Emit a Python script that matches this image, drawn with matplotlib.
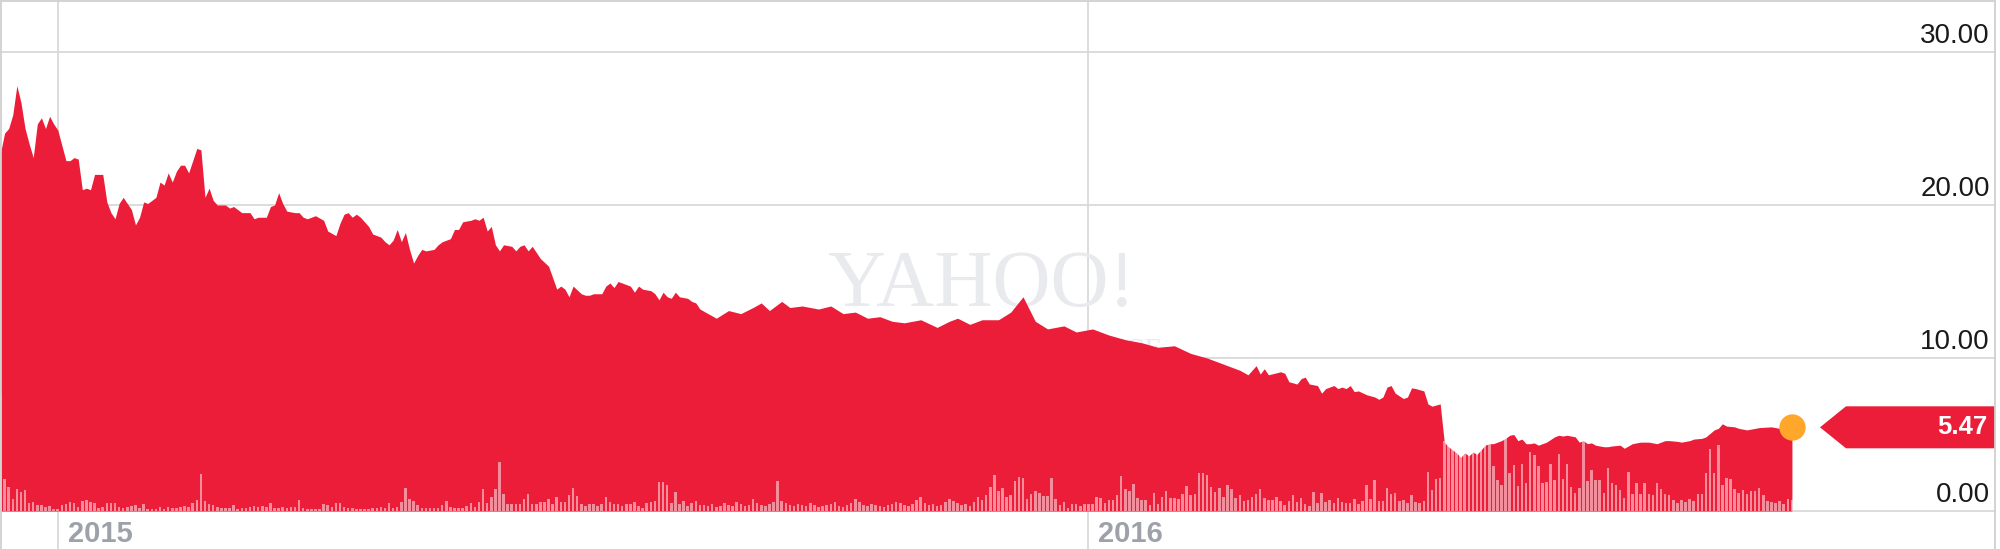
import numpy as np
import pandas as pd
import matplotlib
matplotlib.use("Agg")
import matplotlib.pyplot as plt
from matplotlib.transforms import blended_transform_factory
from matplotlib.patches import Polygon, Rectangle

# ---------------- data ----------------
start_date = "2014-12-11"
end_date = "2016-09-08"
market_holidays = ["2014-12-25", "2015-01-01", "2015-01-19", "2015-02-16", "2015-04-03",
                   "2015-05-25", "2015-07-03", "2015-09-07", "2015-11-26", "2015-12-25",
                   "2016-01-01", "2016-01-18", "2016-02-15", "2016-03-25", "2016-05-30",
                   "2016-07-04", "2016-09-05"]
year_labels = ["2015", "2016"]
price_ticks = [0, 10, 20, 30]
last_price = 5.47

# session number (trading day counted from start_date) and closing price
price_session = [0, 1, 2, 3, 4, 5, 6, 7, 8, 9, 10, 11, 12, 13, 14, 15, 16, 17, 18, 19, 20, 21, 22, 23, 25,
                 26, 27, 28, 29, 30, 32, 33, 34, 35, 36, 38, 39, 40, 41, 42, 43, 44, 45, 46, 48, 49, 50,
                 51, 52, 53, 55, 56, 57, 59, 61, 62, 63, 65, 66, 67, 68, 69, 70, 72, 73, 74, 75, 76, 77,
                 79, 80, 82, 83, 84, 85, 86, 87, 88, 89, 90, 91, 93, 94, 95, 96, 97, 98, 99, 100, 101,
                 102, 103, 104, 106, 107, 108, 110, 111, 112, 113, 115, 116, 117, 118, 119, 120, 121,
                 122, 123, 125, 126, 127, 128, 129, 130, 131, 132, 134, 136, 137, 138, 139, 140, 142,
                 143, 144, 145, 147, 148, 149, 150, 151, 153, 154, 155, 156, 157, 159, 160, 161, 162,
                 163, 164, 165, 166, 168, 169, 170, 171,
                 173, 175, 178, 181, 184, 186, 188, 191, 193, 196, 200, 203, 206, 209, 212, 215, 218,
                 221, 225, 229, 232, 234, 237, 240, 244,
                 247, 250, 253, 256, 260, 263, 267, 271, 275, 279, 283, 287, 291, 295, 299, 303,
                 305, 307, 308, 309, 310, 313, 314, 315, 317, 318, 319, 320, 322, 323, 324, 326, 327,
                 328, 329, 330, 331, 332, 334, 336, 337, 338, 339, 340, 341, 343, 344, 345, 346, 348,
                 349, 350, 352, 353, 354, 355, 356, 357, 358, 359, 360, 361, 362, 363, 364, 365, 367,
                 368, 369, 370, 371, 372, 373, 374, 375, 376, 377, 378, 380, 381, 382, 383, 385, 386,
                 387, 388, 389, 390, 392, 393, 394, 396, 397, 398, 399, 401, 403, 404, 405, 407, 408,
                 410, 411, 413, 414, 416, 417, 419, 420, 421, 422, 424, 425, 427, 428, 430, 433, 435, 438]
price_close = [23.4, 24.7, 25.0, 25.9, 27.8, 26.7, 25.0, 24.0, 23.1, 25.3, 25.7, 25.0, 25.8, 25.3, 24.9,
               23.9, 22.9, 22.9, 23.1, 23.0, 21.0, 21.1, 21.0, 22.0, 22.0,
               20.2, 19.5, 19.1, 20.1, 20.5, 19.7, 18.7, 19.2, 20.2, 20.1, 20.5, 21.5, 21.3, 22.1, 21.5,
               22.2, 22.6, 22.6, 22.1, 23.7, 23.6, 20.5,
               21.1, 20.3, 20.0, 20.0, 19.8, 19.9, 19.5, 19.5, 19.1, 19.2, 19.2, 19.9, 20.0, 20.8, 20.1,
               19.6, 19.5, 19.5, 19.2, 19.1, 19.2, 19.3,
               19.0, 18.3, 18.0, 18.8, 19.4, 19.5, 19.2, 19.4, 19.2, 18.9, 18.6, 18.1, 17.9, 17.6, 17.4,
               17.7, 18.4, 17.6, 18.2, 17.1, 16.2,
               16.7, 17.1, 17.0, 17.1, 17.4, 17.6, 17.8, 18.4, 18.4, 18.9, 19.0, 19.1, 19.0, 19.2, 18.3,
               18.6, 17.4,
               17.0, 17.4, 17.3, 17.0, 17.3, 17.4, 17.0, 17.3, 16.9, 16.5, 16.0, 14.5, 14.7, 14.5, 14.0,
               14.7, 14.2,
               14.1, 14.1, 14.2, 14.2, 14.7, 14.9, 14.6, 15.0, 14.8, 14.7, 14.3, 14.7, 14.5, 14.4, 14.2,
               13.8, 14.3,
               14.0, 13.9, 14.3, 14.0, 13.9, 13.7, 13.6, 13.2,
               12.9, 12.6, 13.1, 12.9, 13.3, 13.6, 13.1, 13.7, 13.3, 13.4, 13.2, 13.4, 12.9, 13.0, 12.6,
               12.7, 12.4, 12.3, 12.5, 12.0, 12.4, 12.6, 12.2, 12.5, 12.5,
               13.0, 14.0, 12.4, 11.9, 12.1, 11.7, 11.9, 11.5, 11.2, 11.0, 10.7, 10.8, 10.3, 10.0, 9.6, 9.2,
               8.9, 9.5, 8.95, 9.3, 8.9, 9.1, 9.0, 8.45, 8.3, 8.65, 8.75, 8.3, 8.2, 7.7, 8.0, 8.2, 8.0,
               8.1, 8.0, 8.2, 7.8, 7.85, 7.6, 7.45, 7.3, 7.45, 8.1, 8.2, 7.7, 7.35, 7.45, 8.05, 8.0, 7.85,
               7.0, 6.85, 7.0, 4.5, 4.2, 4.0, 3.8, 3.5, 3.8, 3.6, 3.85, 3.7, 4.0, 4.3, 4.4, 4.4, 4.6,
               4.75, 4.95, 5.0, 4.6, 4.7, 4.4, 4.4, 4.45, 4.3, 4.4, 4.5, 4.85, 4.95, 4.9, 4.95, 4.85, 4.5,
               4.6, 4.4, 4.45, 4.3, 4.2, 4.2, 4.25, 4.3, 4.1, 4.25, 4.4, 4.5, 4.5, 4.45, 4.4, 4.6, 4.6,
               4.55, 4.5, 4.6, 4.7, 4.75, 4.85, 5.3, 5.4, 5.7, 5.55, 5.5, 5.4, 5.3, 5.35, 5.45, 5.5, 5.4, 5.47]

# daily volume (relative units), one value per trading session
volume = [117, 32, 24, 12, 22, 19, 21, 8, 9, 6, 6,
          4, 5, 2, 2, 6, 7, 9, 8, 4, 10,
          11, 9, 8, 3, 4, 8, 8, 8, 4, 3,
          4, 5, 6, 3, 7, 2, 2, 2, 4, 2,
          4, 3, 3, 4, 5, 4, 8, 11, 37, 10,
          7, 6, 4, 3, 3, 3, 6, 2, 3, 3,
          4, 5, 4, 5, 4, 8, 3, 3, 4, 3,
          4, 4, 11, 3, 2, 2, 2, 2, 7, 6,
          4, 8, 8, 4, 3, 3, 2, 2, 2, 2,
          3, 3, 4, 3, 8,
          3, 4, 9, 23, 12, 10, 6, 3, 3, 3, 3, 3, 6, 10, 4, 3, 3, 3, 5, 8, 4, 9, 22, 8, 14, 22, 49,
          17, 7, 7, 7, 7, 12, 17, 7, 7, 9, 9, 12, 7, 14, 9, 9, 16, 23, 15, 7, 5, 7, 7, 5, 7, 14, 9,
          7, 7, 5, 7, 7, 9, 5, 3, 8, 9, 10, 29, 29, 26, 8, 19, 7, 10, 5, 8, 10, 6,
          6, 5, 7, 4, 5, 8, 6, 5, 9, 7, 5, 6, 12, 8, 6, 5, 7, 9, 30, 10,
          8, 6, 5, 7, 6, 5, 8, 6, 4, 5, 6, 7, 9, 5, 4, 6, 8, 12, 9, 6,
          5, 7, 6, 5, 4, 6, 7, 9, 8, 6, 5, 7, 11, 14, 8, 6, 7, 5, 6, 9,
          12, 10, 8, 6, 7, 5, 9, 14, 11, 16, 24, 36, 20,
          23, 14, 16, 30, 34, 33, 12, 17, 20, 18, 15, 15, 33, 12, 6, 9, 3, 7, 7, 5,
          7, 7, 7, 14, 13, 8, 11, 11, 16, 35, 22, 20, 27, 13, 11, 11, 6, 18, 7, 14,
          20, 13, 13, 12, 17, 25, 16, 17, 38, 38, 36, 24, 19, 23, 14, 26, 22, 13, 16, 10,
          11, 14, 17, 22, 13, 11, 11, 14, 10, 6, 10, 16, 9,
          13, 7, 5, 19, 8, 18, 9, 11, 8, 13, 9, 8, 8, 12, 7, 10, 26, 12, 31, 10,
          10, 23, 17, 18, 10, 11, 8, 16, 9, 8, 10, 39, 21, 32, 33, 70, 69, 70, 70, 70,
          70, 70, 70, 70, 70, 70, 70, 45, 31, 26, 73, 38, 46, 25, 47, 28, 59, 56, 45, 28,
          29, 47, 31, 57, 32, 47, 24, 18, 23, 73, 30, 41, 31, 31, 18, 43, 28, 26, 21, 13,
          39, 17, 28, 17, 28, 17, 16, 28, 22, 17, 16, 11, 8, 11, 9, 12, 10, 17, 17, 38,
          62, 38, 66, 26, 33, 32, 22, 18, 21, 17, 20, 20, 23,
          16, 10, 9, 8, 10, 7, 12, 11]

# ---------------- styling ----------------
W, H, DPI = 2000, 549, 100
RED = "#EC1D39"
GRID = "#D9D9D9"
plt.rcParams["font.family"] = ["Liberation Sans", "DejaVu Sans"]

sessions = pd.bdate_range(start_date, end_date, freq="C", holidays=market_holidays)
n = len(sessions)
idx = np.arange(n)

fig = plt.figure(figsize=(W / DPI, H / DPI), dpi=DPI)
ax = fig.add_axes([0, 0, 1, 1])
px_per_session = 4.09
px_per_unit = 15.3
base_px = 38.0  # zero line distance from bottom
ax.set_xlim(-0.5 / px_per_session, (W - 0.5) / px_per_session)
ax.set_ylim(-base_px / px_per_unit, (H - base_px) / px_per_unit)
ax.axis("off")

xmax_frac = 1995 / W
for t in price_ticks:
    ax.axhline(t, xmin=0, xmax=xmax_frac, color=GRID, lw=1.3, zorder=1)

for y in year_labels:
    first = np.where(sessions.year == int(y))[0][0]
    ax.axvline(first, color=GRID, lw=1.3, zorder=1)
    ax.text(first + 10 / px_per_session, -31 / px_per_unit, y, fontsize=21, fontweight="bold",
            color="#9DA1AA", ha="left", va="baseline", zorder=6)

# watermark
ax.text(1135 / px_per_session, (511 - 306) / px_per_unit, "YAHOO!", fontsize=58,
        family="Liberation Serif", color="#E9EAED", ha="right", va="baseline", zorder=1.5)
ax.text(1162 / px_per_session, (511 - 358) / px_per_unit, "FINANCE", fontsize=21,
        family="Liberation Serif", color="#E9EAED", ha="right", va="baseline", zorder=1.5)

ax.fill_between(price_session, price_close, 0, color=RED, lw=0, zorder=2)

# volume bars
ax2 = ax.twinx()
ax2.set_ylim(-base_px, H - base_px)
ax2.axis("off")
ax2.bar(idx, volume, width=0.62, color="white", alpha=0.5, lw=0, zorder=3)

# price labels on right
tr = blended_transform_factory(ax.transAxes, ax.transData)
for t in price_ticks:
    ax2.text(1990 / W, t + 9 / px_per_unit, f"{t:.2f}", transform=tr, fontsize=20,
             color="#1A1A1A", ha="right", va="baseline", zorder=6)

# last price marker and tag
ax2.scatter([price_session[-1]], [price_close[-1]], s=360, color="#FFA62B", zorder=7,
            transform=ax.transData, lw=0, clip_on=False)
hh = 21 / px_per_unit
tag = Polygon([(1820 / W, last_price), (1846 / W, last_price + hh), (1995 / W, last_price + hh),
               (1995 / W, last_price - hh), (1846 / W, last_price - hh)], closed=True,
              transform=tr, color=RED, lw=0, zorder=6, clip_on=False)
ax2.add_patch(tag)
ax2.text(1987 / W, last_price, f"{last_price:.2f}", transform=tr, fontsize=18.5,
         fontweight="bold", color="white", ha="right", va="center", zorder=8)

# frame
fig.patches.append(Rectangle((0.5 / W, -0.01), 1994.5 / W, 1.0 - 0.5 / H + 0.01,
                             transform=fig.transFigure, fill=False, ec="#D0D0D0", lw=1.3))

fig.savefig("out.png", dpi=DPI)
